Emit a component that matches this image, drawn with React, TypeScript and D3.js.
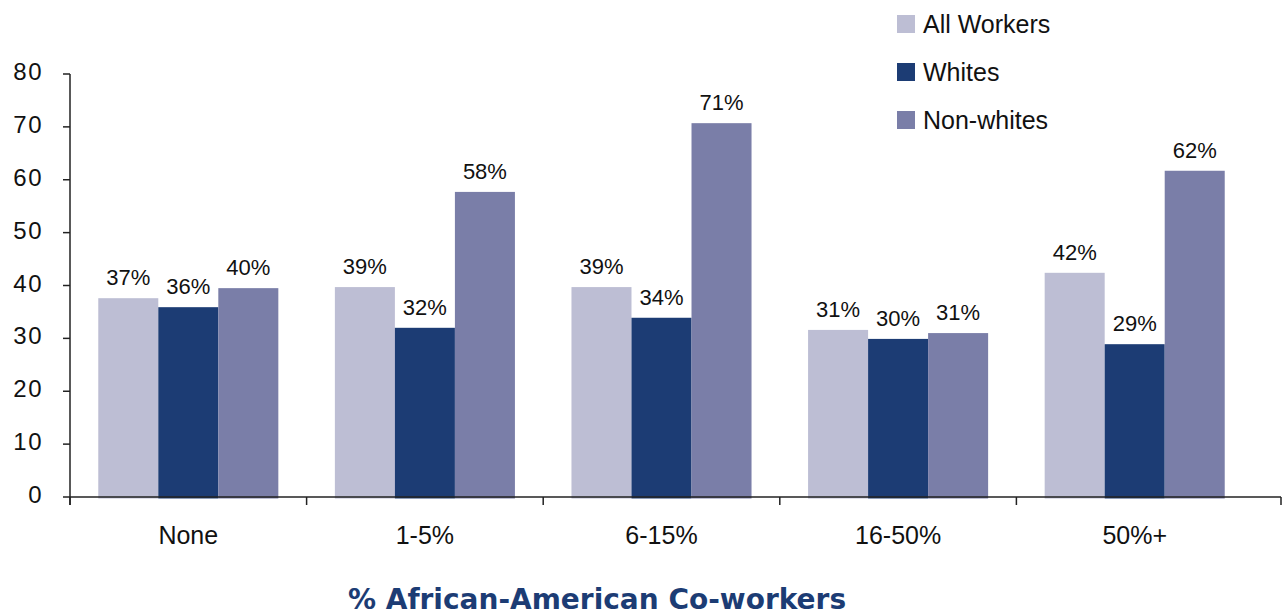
import React from "react";
import * as d3 from "d3";

const categories = ["None", "1-5%", "6-15%", "16-50%", "50%+"];
const seriesNames = ["All Workers", "Whites", "Non-whites"];
const allWorkers = [37.6, 39.7, 39.7, 31.6, 42.4];
const whites = [35.9, 32.0, 33.9, 29.9, 28.9];
const nonWhites = [39.5, 57.7, 70.7, 31.0, 61.7];
const allLabels = ["37%", "39%", "39%", "31%", "42%"];
const whiteLabels = ["36%", "32%", "34%", "30%", "29%"];
const nonWhiteLabels = ["40%", "58%", "71%", "31%", "62%"];
const yTicks = [0, 10, 20, 30, 40, 50, 60, 70, 80];
const colors = ["#bdbed4", "#1c3c74", "#7a7ea8"];
const xTitle = "% African-American Co-workers";

const W = 1282;
const H = 616;
const left = 70;
const plotRight = 1253;
const axisEnd = 1281;
const top = 74;
const bottom = 497;
const FONT = "'Liberation Sans', Arial, sans-serif";

export default function App() {
  const series = [allWorkers, whites, nonWhites];
  const labels = [allLabels, whiteLabels, nonWhiteLabels];
  const y = d3.scaleLinear().domain([0, 80]).range([bottom, top]);
  const x0 = d3
    .scaleBand<string>()
    .domain(categories)
    .range([left, plotRight])
    .paddingInner(0.239)
    .paddingOuter(0.1195);
  const x1 = d3
    .scaleBand<number>()
    .domain([0, 1, 2])
    .range([0, x0.bandwidth()]);
  const step = x0.step();
  const gap = step * 0.239;
  const boundaries = categories.map((c) => (x0(c) as number) - gap / 2);
  boundaries.push(axisEnd);

  return (
    <svg
      width={W}
      height={H}
      style={{ position: "absolute", left: 0, top: 0 }}
      fontFamily={FONT}
    >
      <rect x={0} y={0} width={W} height={H} fill="#fff" />
      {/* bars */}
      {categories.map((c, ci) => (
        <g key={c} transform={`translate(${x0(c)},0)`}>
          {series.map((s, si) => (
            <rect
              key={si}
              x={x1(si)}
              y={y(s[ci])}
              width={x1.bandwidth()}
              height={y(0) - y(s[ci]) + 1.5}
              fill={colors[si]}
            />
          ))}
          {series.map((s, si) => (
            <text
              key={"l" + si}
              x={(x1(si) as number) + x1.bandwidth() / 2}
              y={y(s[ci]) - 13}
              textAnchor="middle"
              fontSize={22}
              fill="#111"
            >
              {labels[si][ci]}
            </text>
          ))}
        </g>
      ))}
      {/* y axis */}
      <line x1={left} x2={left} y1={top} y2={bottom + 8} stroke="#222" strokeWidth={1.5} />
      {yTicks.map((t) => (
        <g key={t}>
          <line x1={left - 7} x2={left} y1={y(t)} y2={y(t)} stroke="#222" strokeWidth={1.5} />
          <text x={43} y={y(t) + 6} textAnchor="end" fontSize={24} fill="#111" letterSpacing={1.5}>
            {t}
          </text>
        </g>
      ))}
      {/* x axis */}
      <line x1={left} x2={axisEnd} y1={bottom} y2={bottom} stroke="#222" strokeWidth={1.5} />
      {boundaries.map((b, i) => (
        <line key={i} x1={b} x2={b} y1={bottom} y2={bottom + 8} stroke="#222" strokeWidth={1.5} />
      ))}
      {categories.map((c) => (
        <text
          key={c}
          x={(x0(c) as number) + x0.bandwidth() / 2}
          y={544}
          textAnchor="middle"
          fontSize={25}
          fill="#111"
        >
          {c}
        </text>
      ))}
      <text
        x={597}
        y={609}
        textAnchor="middle"
        fontSize={28}
        fontWeight="bold"
        fontFamily="'DejaVu Sans', sans-serif"
        fill="#1c3c74"
      >
        {xTitle}
      </text>
      {/* legend */}
      {seriesNames.map((n, i) => (
        <g key={n} transform={`translate(897,${24 + i * 48})`}>
          <rect x={0} y={-9} width={18} height={18} fill={colors[i]} />
          <text x={26} y={9} fontSize={25} fill="#111">
            {n}
          </text>
        </g>
      ))}
    </svg>
  );
}
